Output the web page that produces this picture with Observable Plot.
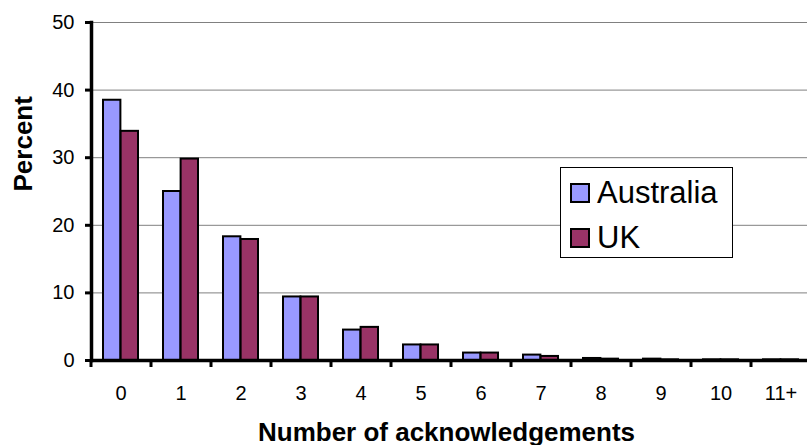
<!DOCTYPE html>
<html>
<head>
<meta charset="utf-8">
<script src="https://cdn.jsdelivr.net/npm/d3@7"></script>
<script src="https://cdn.jsdelivr.net/npm/@observablehq/plot@0.6"></script>
<style>
  body { margin: 0; background: white; }
  #chart { position: relative; width: 807px; height: 445px; font-family: "Liberation Sans", Arial, sans-serif; }
  #chart svg { font-family: "Liberation Sans", Arial, sans-serif; }
  .legend {
    position: absolute; left: 560px; top: 167px; width: 171px; height: 89px;
    border: 1px solid #000; background: #fff; box-sizing: content-box;
  }
  .legend .item { position: absolute; left: 9px; display: flex; align-items: center; font-size: 31px; line-height: 1; color: #000; }
  .legend .sw { width: 16px; height: 16px; border: 2px solid #000; margin-right: 7px; }
</style>
</head>
<body>
<div id="chart"></div>
<script>
// Share of papers by number of acknowledgements
const categories = ["0", "1", "2", "3", "4", "5", "6", "7", "8", "9", "10", "11+"];
const australia  = [38.5, 25.0, 18.3, 9.4, 4.5, 2.3, 1.1, 0.8, 0.3, 0.2, 0.1, 0.1];
const uk         = [33.9, 29.8, 17.9, 9.4, 4.9, 2.3, 1.1, 0.6, 0.2, 0.1, 0.1, 0.1];
const yTicks     = [0, 10, 20, 30, 40, 50];

const seriesNames  = ["Australia", "UK"];
const seriesColors = ["#9999ff", "#993366"];

const rows = categories.map((c, i) => ({cat: c, aus: australia[i], uk: uk[i]}));

const W = 807, H = 445;
const left = 91, right = 811;           // plot area spans a little past the window edge
const step = (right - left) / categories.length;
const paddingInner = 0.413;
const bandwidth = step * (1 - paddingInner);

const chart = Plot.plot({
  width: W,
  height: H,
  marginLeft: left,
  marginRight: W - right,
  marginTop: 22,
  marginBottom: 85,
  style: {fontFamily: "'Liberation Sans', Arial, sans-serif", color: "#000", background: "#fff", overflow: "hidden"},
  x: {domain: categories, paddingInner, paddingOuter: paddingInner / 2, align: 0.5},
  y: {domain: [0, 50]},
  marks: [
    Plot.gridY(yTicks.slice(1), {stroke: "#808080", strokeOpacity: 1, strokeWidth: 1}),
    Plot.barY(rows, {x: "cat", y: "aus", fill: seriesColors[0], stroke: "#000", strokeWidth: 2, insetRight: bandwidth / 2}),
    Plot.barY(rows, {x: "cat", y: "uk", fill: seriesColors[1], stroke: "#000", strokeWidth: 2, insetLeft: bandwidth / 2}),
    // axis lines
    Plot.ruleY([0], {stroke: "#000", strokeWidth: 3.5}),
    Plot.frame({anchor: "left", stroke: "#000", strokeWidth: 3.5}),
    // y axis ticks and labels
    Plot.axisY({ticks: yTicks, tickSize: 6, tickPadding: 11, fontSize: 20, strokeWidth: 3, label: null}),
    // x ticks sit between categories
    Plot.axisX({tickSize: 7, text: null, dx: -step / 2, strokeWidth: 3, label: null}),
    Plot.axisX({tickSize: 0, tickPadding: 25, fontSize: 20, label: null}),
    // axis titles
    Plot.text(["Number of acknowledgements"], {frameAnchor: "bottom", dy: 80, dx: -5, fontSize: 26, fontWeight: "bold", fill: "#000"}),
    Plot.text(["Percent"], {frameAnchor: "left", rotate: -90, dx: -68, fontSize: 26, fontWeight: "bold", fill: "#000"})
  ]
});

const host = document.getElementById("chart");
host.appendChild(chart);

// legend box
const legend = document.createElement("div");
legend.className = "legend";
seriesNames.forEach((name, i) => {
  const item = document.createElement("div");
  item.className = "item";
  item.style.top = (i === 0 ? 9 : 54) + "px";
  const sw = document.createElement("span");
  sw.className = "sw";
  sw.style.background = seriesColors[i];
  const label = document.createElement("span");
  label.textContent = name;
  item.appendChild(sw);
  item.appendChild(label);
  legend.appendChild(item);
});
host.appendChild(legend);
</script>
</body>
</html>
